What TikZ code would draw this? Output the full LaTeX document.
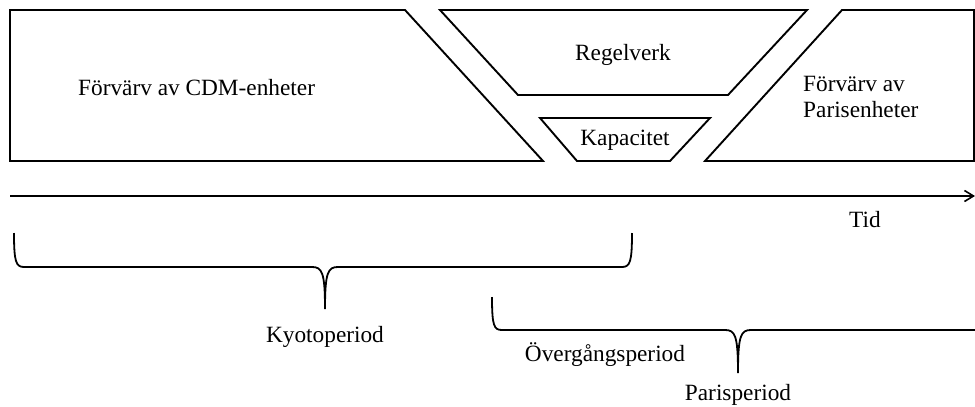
\documentclass[tikz,border=0pt]{standalone}
\usepackage{fontspec}
\setmainfont{Liberation Serif}
\usetikzlibrary{arrows.meta}
\begin{document}
\begin{tikzpicture}[x=1pt,y=-1pt,
  shapeline/.style={draw=black,line width=1.9pt,line join=miter},
  braceline/.style={draw=black,line width=1.8pt},
  lbl/.style={font=\fontsize{23.3}{27}\selectfont,inner sep=0pt}]
\useasboundingbox (0,0) rectangle (975,407);
% shapes
\draw[shapeline] (10,10) -- (405,10) -- (543,161) -- (10,161) -- cycle;
\draw[shapeline] (440,10) -- (807,10) -- (728,95) -- (518,95) -- cycle;
\draw[shapeline] (540,118) -- (710,118) -- (670,161) -- (577,161) -- cycle;
\draw[shapeline] (842,10) -- (974,10) -- (974,161) -- (705,161) -- cycle;
% texts
\node[lbl,anchor=west] (cdm) at (78,88) {Förvärv av CDM-enheter};
\node[lbl] (regel) at (623,55) {Regelverk};
\node[lbl] (kap) at (625,140) {Kapacitet};
\node[lbl,anchor=west,align=left] (paris) at (803,97) {Förvärv av\\[-1pt]Parisenheter};
% time axis
\coordinate (t0) at (10,196);
\coordinate (t1) at (975,196);
\draw[line width=1.8pt,-{Straight Barb[length=9pt,width=11pt,line width=1.6pt]}] (t0) -- (t1);
\node[lbl] (tid) at (865,220) {Tid};
% Kyoto brace
\draw[braceline] (14,233) .. controls (14,262) and (16,267) .. (24,267) -- (312,267)
  .. controls (322,267) and (325,272) .. (325,309)
  .. controls (325,272) and (328,267) .. (338,267) -- (622,267)
  .. controls (630,267) and (632,262) .. (632,233);
\node[lbl] (kyoto) at (325,337) {Kyotoperiod};
% Paris brace
\draw[braceline] (492,297) .. controls (492,326) and (494,330) .. (502,330) -- (725,330)
  .. controls (735,330) and (738,335) .. (738,373)
  .. controls (738,335) and (741,330) .. (751,330) -- (975,330);
\node[lbl] (overg) at (605,355) {Övergångsperiod};
\node[lbl] (parisp) at (738,395) {Parisperiod};
\end{tikzpicture}
\end{document}
